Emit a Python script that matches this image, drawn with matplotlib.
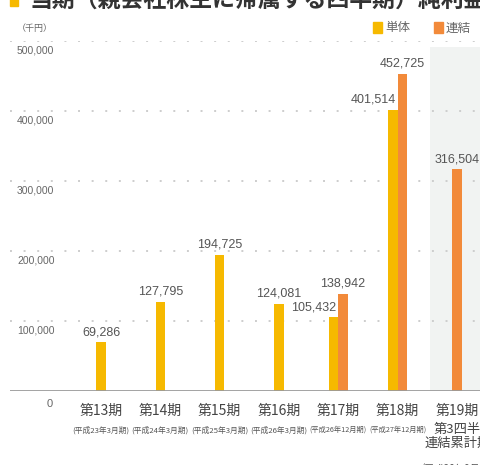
import matplotlib
matplotlib.use("Agg")
import matplotlib.pyplot as plt
from matplotlib.patches import Rectangle

plt.rcParams['font.family'] = ['Noto Sans CJK JP', 'DejaVu Sans']

# data (千円)
periods = ['第13期', '第14期', '第15期', '第16期', '第17期', '第18期', '第19期']
sub_labels = ['(平成23年3月期)', '(平成24年3月期)', '(平成25年3月期)', '(平成26年3月期)',
              '(平成26年12月期)', '(平成27年12月期)', '']
tanntai = [69286, 127795, 194725, 124081, 105432, 401514, None]
renketsu = [None, None, None, None, 138942, 452725, 316504]
yticks = [100000, 200000, 300000, 400000, 500000]

yellow = '#F6B900'
orange = '#F28A3A'
num_font = ['Liberation Sans Narrow', 'Liberation Sans', 'DejaVu Sans']

fig = plt.figure(figsize=(4.81, 4.65), dpi=100)
ax = fig.add_axes([10/481, 1-391/465, 471/481, 350/465])
ax.set_xlim(-1.534, 6.405)
ax.set_ylim(0, 500000)
ax.axis('off')

# shaded area for 第19期
ax.axvspan(5.545, 7, ymin=0, ymax=0.982, color='#F1F3F2', zorder=0, lw=0)

# dotted gridlines + labels under them
for v in yticks:
    ax.axhline(v, color='#CDCDCD', lw=1.4, ls=(0, (1, 6)), zorder=1)
    ax.annotate(f'{v:,}', xy=(0.015, v), xycoords=('axes fraction', 'data'),
                xytext=(0, -3.5), textcoords='offset points', ha='left', va='top',
                fontsize=7.5, color='#666666', family=num_font)
ax.annotate('0', xy=(0.085, 0), xycoords=('axes fraction', 'data'),
            xytext=(0, -6), textcoords='offset points', ha='center', va='top',
            fontsize=8, color='#666666', family=num_font)

w = 0.16
lab_fs = 9
for i in range(len(periods)):
    s, r = tanntai[i], renketsu[i]
    if s is not None and r is not None:
        ax.bar(i - w/2, s, width=w, color=yellow, zorder=2)
        ax.bar(i + w/2, r, width=w, color=orange, zorder=2)
        ax.annotate(f'{s:,}', xy=(i - 0.035, s), xytext=(0, 3), textcoords='offset points',
                    ha='right', va='bottom', fontsize=lab_fs, color='#555555', family=num_font)
        ax.annotate(f'{r:,}', xy=(i + w/2, r), xytext=(0, 3), textcoords='offset points',
                    ha='center', va='bottom', fontsize=lab_fs, color='#555555', family=num_font)
    elif s is not None:
        ax.bar(i, s, width=w, color=yellow, zorder=2)
        ax.annotate(f'{s:,}', xy=(i, s), xytext=(0, 3), textcoords='offset points',
                    ha='center', va='bottom', fontsize=lab_fs, color='#555555', family=num_font)
    else:
        ax.bar(i, r, width=w, color=orange, zorder=2)
        ax.annotate(f'{r:,}', xy=(i, r), xytext=(0, 3), textcoords='offset points',
                    ha='center', va='bottom', fontsize=lab_fs, color='#555555', family=num_font)

# baseline
ax.axhline(0, color='#9A9A9A', lw=2, zorder=3)

# category labels
for i, p in enumerate(periods):
    ax.annotate(p, xy=(i, 0), xytext=(0, -9), textcoords='offset points',
                ha='center', va='top', fontsize=10, color='#444444', annotation_clip=False)
    if sub_labels[i]:
        fs = 5.2 if '12月' in sub_labels[i] else 5.6
        ax.annotate(sub_labels[i], xy=(i, 0), xytext=(0, -25), textcoords='offset points',
                    ha='center', va='top', fontsize=fs, color='#555555', annotation_clip=False)
ax.annotate('第3四半期\n連結累計期間', xy=(6, 0), xytext=(5, -23), textcoords='offset points',
            ha='center', va='top', fontsize=9.5, color='#444444', linespacing=1.05,
            annotation_clip=False)
ax.annotate('(平成28年9月期)', xy=(6, 0), xytext=(0, -52), textcoords='offset points',
            ha='center', va='top', fontsize=7, color='#555555', annotation_clip=False)

# title (cut off at the top)
fig.add_artist(Rectangle((10/481, 1-6/465), 8/481, 10/465, color=yellow,
                         transform=fig.transFigure))
fig.text(30/481, 1-13/465, '当期（親会社株主に帰属する四半期）純利益', ha='left', va='bottom',
         fontsize=16.5, fontweight='bold', color='#333333')

# unit and legend
fig.text(17/481, 1-28/465, '（千円）', ha='left', va='center', fontsize=6.5, color='#666666')
fig.add_artist(Rectangle((373/481, 1-33/465), 9/481, 11/465, color=yellow,
                         transform=fig.transFigure))
fig.text(385/481, 1-28/465, '単体', ha='left', va='center', fontsize=9, color='#666666')
fig.add_artist(Rectangle((434/481, 1-33/465), 9/481, 11/465, color=orange,
                         transform=fig.transFigure))
fig.text(446/481, 1-28/465, '連結', ha='left', va='center', fontsize=9, color='#666666')

fig.savefig('out.png', dpi=100)
